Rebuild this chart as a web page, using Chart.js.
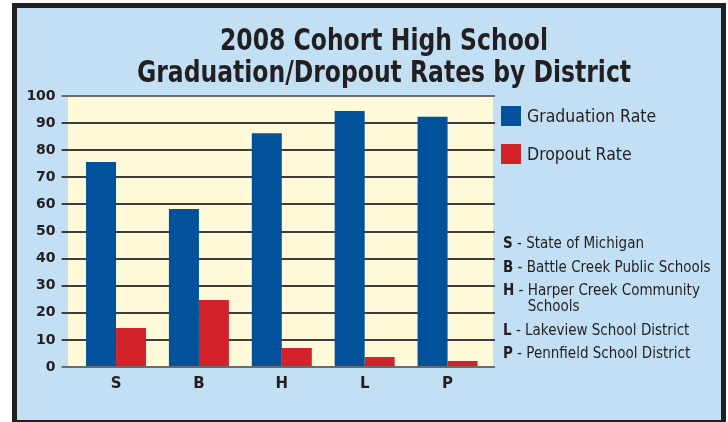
<!DOCTYPE html>
<html>
<head>
<meta charset="utf-8">
<script src="https://cdn.jsdelivr.net/npm/chart.js@4.4.1/dist/chart.umd.min.js"></script>
<style>
  html, body { margin: 0; padding: 0; background: #fff; }
  body {
    width: 728px; height: 422px; overflow: hidden; position: relative;
    font-family: 'Liberation Sans Narrow', 'DejaVu Sans Condensed', sans-serif;
    color: #231f20;
  }
  #moldura {
    position: absolute; left: 12px; top: 3px; width: 704px; height: 412px;
    border: 5px solid #231f20; background: #c2dff4;
  }
  #grafico { position: absolute; left: 0; top: 0; }
  #titulo {
    position: absolute; left: 30px; top: 16px; width: 674px; margin: 0;
    text-align: center; font-size: 30px; line-height: 32px; font-weight: bold;
    transform: scaleX(0.87); transform-origin: 50% 50%;
  }
  #legenda { position: absolute; left: 484px; top: 98px; }
  .item-legenda { display: flex; align-items: center; height: 20px; margin-bottom: 18px; font-size: 17.5px; }
  .caixa { width: 20px; height: 20px; margin-right: 6px; }
  #chave { position: absolute; left: 486px; top: 227px; width: 218px; font-size: 15px; }
  .item-chave { display: flex; line-height: 16px; margin-bottom: 7.5px; }
  .letra-chave { white-space: pre; }
</style>
</head>
<body>
<div id="moldura">
  <canvas id="grafico" width="704" height="412"></canvas>
  <h1 id="titulo">2008 Cohort High School<br>Graduation/Dropout Rates by District</h1>
  <div id="legenda"></div>
  <div id="chave"></div>
</div>
<script>
const distritos = ['S', 'B', 'H', 'L', 'P']
const taxaGraduacao = [75.6, 58.3, 86.3, 94.5, 92.3]
const taxaEvasao = [14.4, 24.7, 7.0, 3.7, 2.2]
const rotulosSeries = ['Graduation Rate', 'Dropout Rate']
const coresSeries = ['#02529b', '#d2232a']
const nomesDistritos = [
  'State of Michigan',
  'Battle Creek Public Schools',
  'Harper Creek Community Schools',
  'Lakeview School District',
  'Pennfield School District'
]

const corTexto = '#231f20'

function corGrade(valor) {
  return valor === 0 || valor === 100 ? '#6b6b69' : '#3d3d3b'
}

// fundo creme da área do gráfico, um pouco mais largo que a área das barras
const fundoCreme = {
  id: 'fundoCreme',
  beforeDraw(chart) {
    const { ctx, chartArea: a } = chart
    ctx.save()
    ctx.fillStyle = '#fef9d8'
    ctx.fillRect(a.left - 6.6, a.top, a.width + 10.6, a.bottom - a.top)
    ctx.restore()
  },
  beforeDatasetsDraw(chart) {
    // as linhas de grade passam um pouco da última barra
    const { ctx, chartArea: a, scales } = chart
    ctx.save()
    ctx.lineWidth = 2
    scales.y.ticks.forEach(t => {
      const y = Math.round(scales.y.getPixelForValue(t.value))
      ctx.strokeStyle = corGrade(t.value)
      ctx.beginPath()
      ctx.moveTo(a.right, y)
      ctx.lineTo(a.right + 6, y)
      ctx.stroke()
    })
    ctx.restore()
  }
}

const grafico = new Chart(document.getElementById('grafico').getContext('2d'), {
  type: 'bar',
  data: {
    labels: distritos,
    datasets: [
      { label: rotulosSeries[0], data: taxaGraduacao, backgroundColor: coresSeries[0] },
      { label: rotulosSeries[1], data: taxaEvasao, backgroundColor: coresSeries[1] }
    ]
  },
  options: {
    responsive: false,
    animation: false,
    devicePixelRatio: 1,
    layout: { padding: { top: 88, right: 232, left: 0, bottom: 0 } },
    datasets: { bar: { categoryPercentage: 0.724, barPercentage: 1, borderWidth: 0 } },
    scales: {
      x: {
        grid: { display: false },
        border: { display: false },
        ticks: { color: corTexto, padding: 0, font: { family: 'DejaVu Sans', weight: 'bold', size: 15 } },
        afterFit: s => { s.height = 53 }
      },
      y: {
        min: 0,
        max: 100,
        ticks: { stepSize: 10, color: corTexto, padding: 6, font: { family: 'DejaVu Sans', weight: 'bold', size: 14 } },
        grid: {
          color: ctx => corGrade(ctx.tick.value),
          lineWidth: 2,
          tickLength: 13
        },
        border: { display: false },
        afterFit: s => { s.width = 57.6 }
      }
    },
    plugins: { legend: { display: false }, tooltip: { enabled: false }, title: { display: false } }
  },
  plugins: [fundoCreme]
})

// legenda das séries, a partir dos datasets
document.getElementById('legenda').innerHTML = grafico.data.datasets
  .map(d => `
    <div class="item-legenda">
      <div class="caixa" style="background:${d.backgroundColor}"></div>
      <span>${d.label}</span>
    </div>`)
  .join('')

// chave das letras dos distritos
document.getElementById('chave').innerHTML = distritos
  .map((letra, i) => `
    <div class="item-chave">
      <span class="letra-chave"><b>${letra}</b> - </span>
      <span>${nomesDistritos[i]}</span>
    </div>`)
  .join('')
</script>
</body>
</html>
